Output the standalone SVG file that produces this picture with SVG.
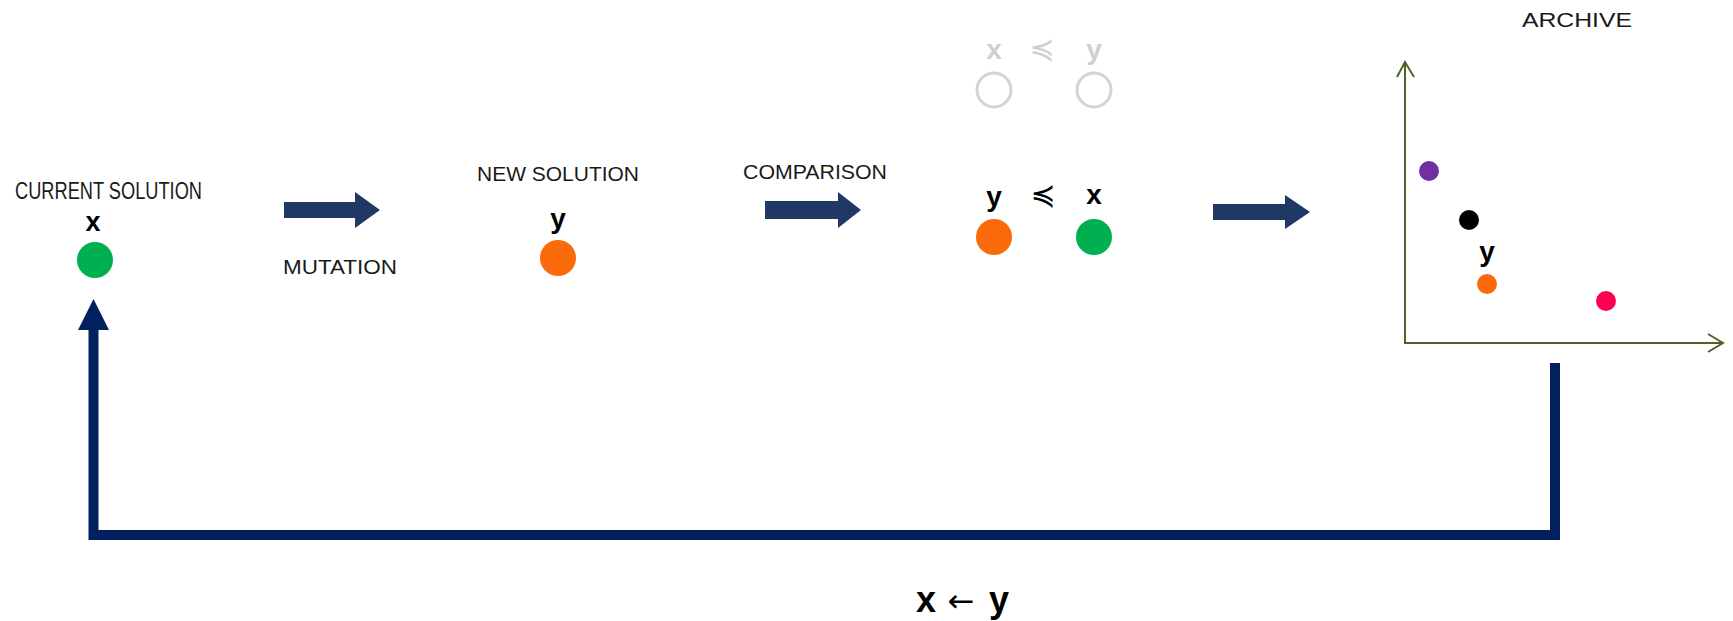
<svg xmlns="http://www.w3.org/2000/svg" width="1733" height="621" viewBox="0 0 1733 621">
  <style>
    .label { font-family: "Liberation Sans", Arial, sans-serif; fill: #1a1a1a; }
    .var { font-family: "Liberation Sans", Arial, sans-serif; font-weight: bold; fill: #000; text-anchor: middle; }
    .rel { font-family: "DejaVu Sans", sans-serif; fill: #000; text-anchor: middle; }
    .ghost { fill: #cfcfcf; }
    .block { fill: #1f3864; }
    .axis { fill: none; stroke: #4f6228; stroke-width: 2; }
    .loop { fill: none; stroke: #002060; stroke-width: 10; stroke-linejoin: miter; }
  </style>

  <rect width="1733" height="621" fill="#ffffff"/>

  <!-- current solution -->
  <g id="current">
    <text class="label" x="15" y="199" font-size="23" textLength="187" lengthAdjust="spacingAndGlyphs">CURRENT SOLUTION</text>
    <text class="var" x="93" y="231" font-size="27">x</text>
    <circle cx="95" cy="260" r="18" fill="#00b050"/>
  </g>

  <!-- new solution -->
  <g id="new">
    <text class="label" x="477" y="181" font-size="21" textLength="162" lengthAdjust="spacingAndGlyphs">NEW SOLUTION</text>
    <text class="var" x="558" y="228" font-size="28">y</text>
    <circle cx="558" cy="258" r="18" fill="#fa6a0a"/>
  </g>

  <!-- comparison -->
  <g id="comparison">
    <g class="ghost">
      <text class="var ghost" x="994" y="59" font-size="28">x</text>
      <text class="rel ghost" x="1042" y="59" font-size="30">≼</text>
      <text class="var ghost" x="1094" y="59" font-size="28">y</text>
      <circle cx="994" cy="90" r="17" fill="none" stroke="#d4d4d4" stroke-width="3"/>
      <circle cx="1094" cy="90" r="17" fill="none" stroke="#d4d4d4" stroke-width="3"/>
    </g>
    <text class="var" x="994" y="206" font-size="28">y</text>
    <text class="rel" x="1043" y="205" font-size="30">≼</text>
    <text class="var" x="1094" y="204" font-size="28">x</text>
    <circle cx="994" cy="237" r="18" fill="#fa6a0a"/>
    <circle cx="1094" cy="237" r="18" fill="#00b050"/>
  </g>

  <!-- archive plot -->
  <g id="archive">
    <text class="label" x="1522" y="27" font-size="21" textLength="110" lengthAdjust="spacingAndGlyphs">ARCHIVE</text>
    <path class="axis" d="M1405,62 V343 H1723"/>
    <path class="axis" d="M1397,77 L1405,62 L1414,77"/>
    <path class="axis" d="M1708,334 L1723,343 L1708,352"/>
    <circle cx="1429" cy="171" r="10" fill="#7030a0"/>
    <circle cx="1469" cy="220" r="10" fill="#000000"/>
    <text class="var" x="1487" y="261" font-size="28">y</text>
    <circle cx="1487" cy="284" r="10" fill="#fa6a0a"/>
    <circle cx="1606" cy="301" r="10" fill="#ff0050"/>
  </g>

  <!-- step labels -->
  <g id="step-labels">
    <text class="label" x="283" y="274" font-size="21" textLength="114" lengthAdjust="spacingAndGlyphs">MUTATION</text>
    <text class="label" x="743" y="179" font-size="21" textLength="144" lengthAdjust="spacingAndGlyphs">COMPARISON</text>
    <text class="var" x="962" y="612" font-size="36"><tspan x="926">x</tspan><tspan x="961" font-weight="normal" font-family="DejaVu Sans, sans-serif" font-size="32">←</tspan><tspan x="999">y</tspan></text>
  </g>

  <!-- connectors -->
  <g id="connectors">
    <polygon class="block" points="284,202 355,202 355,192 380,210 355,228 355,218 284,218"/>
    <polygon class="block" points="765,201 838,201 838,192 861,210 838,228 838,219 765,219"/>
    <polygon class="block" points="1213,204 1285,204 1285,195 1310,212 1285,229 1285,220 1213,220"/>
    <path class="loop" d="M1555,363 V535 H93.5 V328"/>
    <polygon points="78,330 109,330 93.5,299" fill="#002060"/>
  </g>
</svg>
